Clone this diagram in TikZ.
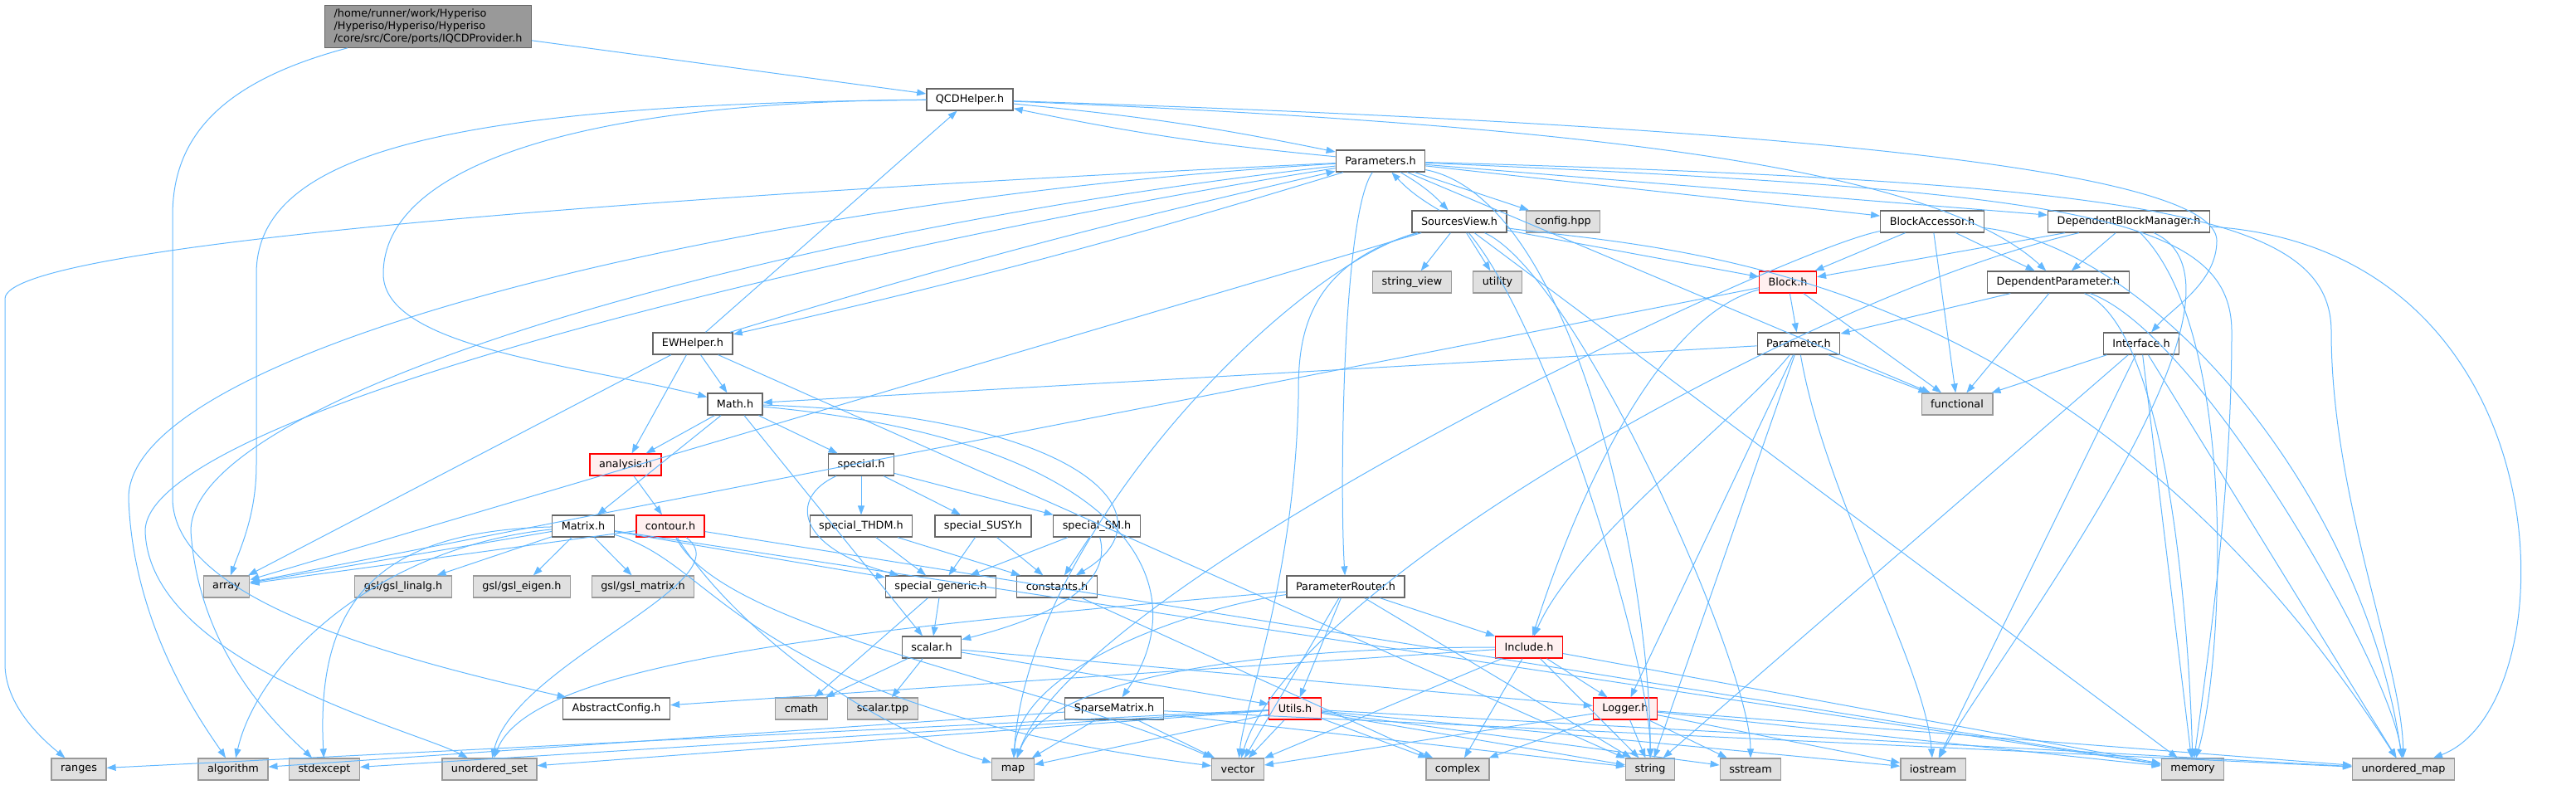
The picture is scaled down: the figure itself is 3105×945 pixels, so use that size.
\documentclass[tikz,border=0pt]{standalone}
\usepackage{fontspec}
\setmainfont{DejaVu Sans}
\usepackage{tikz}
\usetikzlibrary{arrows.meta}
\definecolor{edgeblue}{HTML}{63B8FF}
\definecolor{sysfill}{HTML}{E0E0E0}
\definecolor{sysline}{HTML}{999999}
\definecolor{hdrline}{HTML}{666666}
\definecolor{redfill}{HTML}{FFF0F0}
\tikzset{
  box/.style={rectangle, minimum height=26pt, inner xsep=11pt, inner ysep=2pt, line width=1.3pt, font=\fontsize{12.8}{15}\selectfont},
  hdr/.style={box, draw=hdrline, fill=white},
  syshdr/.style={box, draw=sysline, fill=sysfill},
  redhdr/.style={box, draw=red, fill=redfill},
  roothdr/.style={box, draw=hdrline, fill=sysline, align=left, inner ysep=4pt},
  inc/.style={draw=edgeblue, line width=1pt, -{Triangle[length=11pt,width=8pt]}}
}

\begin{document}
\begin{tikzpicture}[x=1pt, y=-1pt]
            \useasboundingbox (0,0) rectangle (3105,945);
            % files
            \node[roothdr] (root) at (516,32) {/home/runner/work/Hyperiso\\/Hyperiso/Hyperiso/Hyperiso\\/core/src/Core/ports/IQCDProvider.h};
            \node[hdr] (qcd) at (1169,120) {QCDHelper.h};
            \node[hdr] (params) at (1664,194) {Parameters.h};
            \node[hdr] (srcview) at (1759,267) {SourcesView.h};
            \node[syshdr] (config) at (1884,267) {config.hpp};
            \node[syshdr] (strview) at (1702,340) {string\_view};
            \node[syshdr] (utility) at (1805,340) {utility};
            \node[hdr] (blkacc) at (2329,267) {BlockAccessor.h};
            \node[hdr] (depblk) at (2566,267) {DependentBlockManager.h};
            \node[redhdr] (block) at (2155,340) {Block.h};
            \node[hdr] (deppar) at (2481,340) {DependentParameter.h};
            \node[hdr] (ewh) at (835,414) {EWHelper.h};
            \node[hdr] (param) at (2168,414) {Parameter.h};
            \node[hdr] (iface) at (2581,414) {Interface.h};
            \node[hdr] (math) at (886,487) {Math.h};
            \node[syshdr] (functional) at (2359,487) {functional};
            \node[redhdr] (analysis) at (754,560) {analysis.h};
            \node[hdr] (special) at (1038,560) {special.h};
            \node[hdr] (matrix) at (703,634) {Matrix.h};
            \node[redhdr] (contour) at (808,634) {contour.h};
            \node[hdr] (thdm) at (1038,634) {special\_THDM.h};
            \node[hdr] (susy) at (1185,634) {special\_SUSY.h};
            \node[hdr] (sm) at (1322,634) {special\_SM.h};
            \node[syshdr] (array) at (273,707) {array};
            \node[syshdr] (linalg) at (486,707) {gsl/gsl\_linalg.h};
            \node[syshdr] (eigen) at (629,707) {gsl/gsl\_eigen.h};
            \node[syshdr] (gslmat) at (775,707) {gsl/gsl\_matrix.h};
            \node[hdr] (generic) at (1134,707) {special\_generic.h};
            \node[hdr] (consts) at (1274,707) {constants.h};
            \node[hdr] (router) at (1622,707) {ParameterRouter.h};
            \node[hdr] (scalar) at (1123,780) {scalar.h};
            \node[redhdr] (include) at (1843,780) {Include.h};
            \node[hdr] (absconf) at (743,854) {AbstractConfig.h};
            \node[syshdr] (cmath) at (966,854) {cmath};
            \node[syshdr] (scalartpp) at (1064,854) {scalar.tpp};
            \node[hdr] (sparse) at (1343,854) {SparseMatrix.h};
            \node[redhdr] (utils) at (1561,854) {Utils.h};
            \node[redhdr] (logger) at (1959,854) {Logger.h};
            \node[syshdr] (ranges) at (95,927) {ranges};
            \node[syshdr] (algorithm) at (281,927) {algorithm};
            \node[syshdr] (stdexcept) at (391,927) {stdexcept};
            \node[syshdr] (uset) at (590,927) {unordered\_set};
            \node[syshdr] (map) at (1221,927) {map};
            \node[syshdr] (vector) at (1492,927) {vector};
            \node[syshdr] (complex) at (1757,927) {complex};
            \node[syshdr] (string) at (1989,927) {string};
            \node[syshdr] (sstream) at (2110,927) {sstream};
            \node[syshdr] (iostream) at (2330,927) {iostream};
            \node[syshdr] (memory) at (2643,927) {memory};
            \node[syshdr] (umap) at (2897,927) {unordered\_map};
            % includes
            \draw[inc] (root) -- (qcd);
            \draw[inc] (root) .. controls (260,100) and (208,170) .. (208,260) -- (208,600) .. controls (208,720) and (460,790) .. (absconf);
            \draw[inc] (qcd) to[bend left=3] (params);
            \draw[inc] (params) to[bend left=3] (qcd);
            \draw[inc] (qcd) .. controls (700,122) and (462,200) .. (462,330) .. controls (462,420) and (700,440) .. (math);
            \draw[inc] (qcd) .. controls (520,125) and (309,190) .. (309,330) -- (309,560) .. controls (309,620) and (290,660) .. (array);
            \draw[inc] (qcd) .. controls (2100,150) and (2672,200) .. (2672,290) .. controls (2672,340) and (2620,370) .. (iface);
            \draw[inc] (qcd) .. controls (1900,150) and (2330,200) .. (deppar);
            \draw[inc] (params) to[bend left=8] (srcview);
            \draw[inc] (srcview) to[bend left=8] (params);
            \draw[inc] (params) -- (config);
            \draw[inc] (params) -- (blkacc);
            \draw[inc] (params) -- (depblk);
            \draw[inc] (params) to[bend left=2] (ewh);
            \draw[inc] (ewh) to[bend left=2] (params);
            \draw[inc] (params) .. controls (1617,260) and (1615,600) .. (router);
            \draw[inc] (params) .. controls (900,230) and (6,290) .. (6,360) -- (6,800) .. controls (6,850) and (50,890) .. (ranges);
            \draw[inc] (params) .. controls (900,240) and (155,420) .. (155,600) .. controls (160,760) and (250,880) .. (algorithm);
            \draw[inc] (params) .. controls (900,280) and (230,480) .. (230,640) .. controls (240,790) and (340,880) .. (stdexcept);
            \draw[inc] (params) .. controls (1000,300) and (175,500) .. (175,640) .. controls (180,800) and (500,880) .. (uset);
            \draw[inc] (params) -- (functional);
            \draw[inc] (params) .. controls (2500,230) and (2690,260) .. (2690,400) .. controls (2690,600) and (2660,800) .. (memory);
            \draw[inc] (params) .. controls (2600,220) and (2810,260) .. (2810,400) .. controls (2810,600) and (2895,800) .. (umap);
            \draw[inc] (params) .. controls (1900,240) and (1990,700) .. (string);
            \draw[inc] (srcview) -- (strview);
            \draw[inc] (srcview) -- (utility);
            \draw[inc] (srcview) -- (block);
            \draw[inc] (srcview) .. controls (1565,320) and (1565,420) .. (1565,480) .. controls (1560,700) and (1500,850) .. (vector);
            \draw[inc] (srcview) .. controls (1560,320) and (1240,640) .. (map);
            \draw[inc] (srcview) -- (array);
            \draw[inc] (srcview) .. controls (1870,400) and (1990,800) .. (string);
            \draw[inc] (srcview) .. controls (1900,330) and (2110,800) .. (sstream);
            \draw[inc] (srcview) -- (memory);
            \draw[inc] (srcview) .. controls (2000,300) and (2500,310) .. (umap);
            \draw[inc] (blkacc) -- (block);
            \draw[inc] (blkacc) -- (deppar);
            \draw[inc] (blkacc) -- (functional);
            \draw[inc] (blkacc) .. controls (2150,300) and (1300,700) .. (map);
            \draw[inc] (blkacc) .. controls (2600,300) and (2850,600) .. (umap);
            \draw[inc] (depblk) -- (block);
            \draw[inc] (depblk) -- (deppar);
            \draw[inc] (depblk) .. controls (2200,350) and (1560,700) .. (vector);
            \draw[inc] (depblk) .. controls (2700,400) and (2680,800) .. (memory);
            \draw[inc] (depblk) .. controls (3100,300) and (3100,850) .. (umap);
            \draw[inc] (depblk) .. controls (2750,350) and (2400,800) .. (iostream);
            \draw[inc] (deppar) -- (param);
            \draw[inc] (deppar) -- (functional);
            \draw[inc] (deppar) .. controls (2620,400) and (2640,800) .. (memory);
            \draw[inc] (deppar) .. controls (2650,400) and (2880,800) .. (umap);
            \draw[inc] (block) -- (param);
            \draw[inc] (block) -- (functional);
            \draw[inc] (block) .. controls (2000,380) and (1900,600) .. (include);
            \draw[inc] (block) -- (array);
            \draw[inc] (param) -- (math);
            \draw[inc] (param) .. controls (2100,500) and (1900,650) .. (include);
            \draw[inc] (param) -- (logger);
            \draw[inc] (param) -- (string);
            \draw[inc] (param) .. controls (2200,600) and (2320,800) .. (iostream);
            \draw[inc] (param) -- (functional);
            \draw[inc] (iface) -- (functional);
            \draw[inc] (iface) -- (string);
            \draw[inc] (iface) -- (iostream);
            \draw[inc] (iface) -- (memory);
            \draw[inc] (iface) -- (umap);
            \draw[inc] (ewh) -- (qcd);
            \draw[inc] (ewh) -- (math);
            \draw[inc] (ewh) -- (analysis);
            \draw[inc] (ewh) -- (array);
            \draw[inc] (ewh) -- (string);
            \draw[inc] (math) -- (analysis);
            \draw[inc] (math) -- (matrix);
            \draw[inc] (math) -- (special);
            \draw[inc] (math) .. controls (1300,500) and (1420,620) .. (consts);
            \draw[inc] (math) -- (scalar);
            \draw[inc] (math) .. controls (1350,530) and (1450,700) .. (sparse);
            \draw[inc] (analysis) -- (contour);
            \draw[inc] (contour) -- (array);
            \draw[inc] (contour) -- (memory);
            \draw[inc] (contour) .. controls (870,760) and (1250,820) .. (vector);
            \draw[inc] (contour) .. controls (860,720) and (1000,860) .. (map);
            \draw[inc] (contour) .. controls (900,700) and (620,800) .. (uset);
            \draw[inc] (matrix) -- (array);
            \draw[inc] (matrix) -- (linalg);
            \draw[inc] (matrix) -- (eigen);
            \draw[inc] (matrix) -- (gslmat);
            \draw[inc] (matrix) -- (generic);
            \draw[inc] (matrix) .. controls (450,660) and (310,800) .. (algorithm);
            \draw[inc] (matrix) .. controls (460,640) and (380,720) .. (stdexcept);
            \draw[inc] (matrix) .. controls (870,680) and (890,850) .. (vector);
            \draw[inc] (matrix) -- (memory);
            \draw[inc] (special) -- (thdm);
            \draw[inc] (special) -- (susy);
            \draw[inc] (special) -- (sm);
            \draw[inc] (special) .. controls (950,600) and (960,660) .. (generic);
            \draw[inc] (thdm) -- (generic);
            \draw[inc] (thdm) -- (consts);
            \draw[inc] (susy) -- (generic);
            \draw[inc] (susy) -- (consts);
            \draw[inc] (sm) -- (generic);
            \draw[inc] (sm) -- (consts);
            \draw[inc] (sm) .. controls (1340,700) and (1280,740) .. (scalar);
            \draw[inc] (generic) -- (scalar);
            \draw[inc] (generic) -- (cmath);
            \draw[inc] (consts) -- (complex);
            \draw[inc] (scalar) -- (cmath);
            \draw[inc] (scalar) -- (scalartpp);
            \draw[inc] (scalar) -- (utils);
            \draw[inc] (scalar) -- (logger);
            \draw[inc] (router) -- (include);
            \draw[inc] (router) -- (utils);
            \draw[inc] (router) .. controls (1450,730) and (1230,800) .. (map);
            \draw[inc] (router) -- (vector);
            \draw[inc] (router) -- (string);
            \draw[inc] (router) .. controls (1000,760) and (640,800) .. (uset);
            \draw[inc] (include) -- (absconf);
            \draw[inc] (include) -- (logger);
            \draw[inc] (include) .. controls (1500,780) and (1260,820) .. (map);
            \draw[inc] (include) -- (vector);
            \draw[inc] (include) -- (complex);
            \draw[inc] (include) -- (string);
            \draw[inc] (include) -- (memory);
            \draw[inc] (utils) -- (ranges);
            \draw[inc] (utils) -- (stdexcept);
            \draw[inc] (utils) -- (uset);
            \draw[inc] (utils) -- (map);
            \draw[inc] (utils) -- (vector);
            \draw[inc] (utils) -- (complex);
            \draw[inc] (utils) -- (string);
            \draw[inc] (utils) -- (sstream);
            \draw[inc] (utils) -- (iostream);
            \draw[inc] (utils) -- (umap);
            \draw[inc] (sparse) -- (algorithm);
            \draw[inc] (sparse) -- (map);
            \draw[inc] (sparse) -- (vector);
            \draw[inc] (sparse) -- (string);
            \draw[inc] (sparse) -- (umap);
            \draw[inc] (logger) -- (vector);
            \draw[inc] (logger) -- (complex);
            \draw[inc] (logger) -- (string);
            \draw[inc] (logger) -- (sstream);
            \draw[inc] (logger) -- (iostream);
            \draw[inc] (logger) -- (memory);
            \draw[inc] (logger) -- (umap);
        \end{tikzpicture}
\end{document}
